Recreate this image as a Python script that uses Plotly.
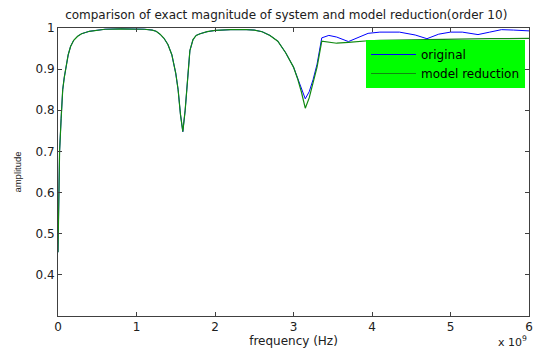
import plotly.graph_objects as go

# frequency in units of 1e9 Hz
freq = [0, 0.02, 0.04, 0.06, 0.08, 0.10, 0.13, 0.16, 0.20, 0.25, 0.30, 0.40, 0.50, 0.60,
        0.80, 1.00, 1.10, 1.20, 1.25, 1.30, 1.35, 1.40, 1.45, 1.50, 1.53, 1.56, 1.59,
        1.62, 1.65, 1.68, 1.72, 1.76, 1.81, 1.90, 2.00, 2.20, 2.40, 2.50, 2.60, 2.70,
        2.80, 2.90, 3.00, 3.05, 3.10, 3.15, 3.20, 3.25, 3.30, 3.36, 3.45, 3.55, 3.70,
        3.80, 3.95, 4.10, 4.35, 4.55, 4.70, 4.85, 5.00, 5.15, 5.35, 5.50, 5.65, 5.80, 6.00]

original = [0.455, 0.70, 0.78, 0.85, 0.88, 0.905, 0.935, 0.955, 0.970, 0.980, 0.986, 0.992,
            0.995, 0.997, 0.998, 0.998, 0.997, 0.995, 0.992, 0.985, 0.975, 0.960, 0.935,
            0.890, 0.850, 0.790, 0.748, 0.800, 0.880, 0.945, 0.972, 0.982, 0.986, 0.991,
            0.994, 0.996, 0.996, 0.995, 0.991, 0.982, 0.968, 0.940, 0.905, 0.880, 0.852,
            0.828, 0.845, 0.875, 0.912, 0.976, 0.982, 0.978, 0.967, 0.975, 0.987, 0.990,
            0.990, 0.983, 0.974, 0.985, 0.990, 0.990, 0.984, 0.990, 0.996, 0.995, 0.993]

model_reduction = [0.455, 0.70, 0.78, 0.85, 0.88, 0.905, 0.935, 0.955, 0.970, 0.980, 0.986,
                   0.992, 0.995, 0.997, 0.998, 0.998, 0.997, 0.995, 0.992, 0.985, 0.975,
                   0.960, 0.935, 0.890, 0.850, 0.790, 0.748, 0.800, 0.880, 0.945, 0.972,
                   0.982, 0.986, 0.991, 0.994, 0.996, 0.996, 0.995, 0.991, 0.982, 0.968,
                   0.940, 0.905, 0.878, 0.845, 0.805, 0.830, 0.865, 0.905, 0.968, 0.966,
                   0.963, 0.965, 0.967, 0.969, 0.970, 0.971, 0.972, 0.972, 0.973, 0.973,
                   0.973, 0.974, 0.974, 0.974, 0.975, 0.975]

x_ticks = [0, 1, 2, 3, 4, 5, 6]
y_ticks = [0.4, 0.5, 0.6, 0.7, 0.8, 0.9, 1]
y_tick_labels = ["0.4", "0.5", "0.6", "0.7", "0.8", "0.9", "1"]

wide = "DejaVu Sans, sans-serif"
narrow = "Liberation Sans, Arial, sans-serif"
txt = "#202020"

fig = go.Figure()
fig.add_trace(go.Scatter(x=freq, y=original, mode="lines", name="original",
                         line=dict(color="#0000ff", width=1)))
fig.add_trace(go.Scatter(x=freq, y=model_reduction, mode="lines", name="model reduction",
                         line=dict(color="#108a10", width=1.2)))

axis_common = dict(showline=True, linecolor="#404040", linewidth=1, mirror="ticks",
                   ticks="inside", ticklen=4, tickcolor="#404040", showgrid=False,
                   zeroline=False, automargin=False,
                   tickfont=dict(family=wide, size=12, color=txt))

fig.update_layout(
    width=535, height=351,
    margin=dict(l=58, r=6, t=28, b=35),
    paper_bgcolor="white", plot_bgcolor="white",
    hovermode=False,
    title=dict(text="comparison of exact magnitude of system and model reduction(order 10)",
               x=0.535, xanchor="center", y=1 - 15 / 351, yanchor="middle",
               font=dict(family=wide, size=12, color=txt)),
    xaxis=dict(range=[0, 6], tickvals=x_ticks,
               title=dict(text="frequency (Hz)", standoff=2,
                          font=dict(family=wide, size=12, color=txt)),
               **axis_common),
    yaxis=dict(range=[0.3, 1], tickvals=y_ticks, ticktext=y_tick_labels,
               title=dict(text="amplitude", standoff=12,
                          font=dict(family=narrow, size=9.5, color=txt)),
               **axis_common),
    legend=dict(x=(366 - 58) / 471, y=(316 - 40) / 288, xanchor="left", yanchor="top",
                bgcolor="#00ff00", borderwidth=0, itemwidth=45,
                font=dict(family=wide, size=12, color="#000000"),
                tracegroupgap=0),
    showlegend=True,
    annotations=[dict(text="x 10<sup>9</sup>", xref="paper", yref="paper",
                      x=1.0, y=(316 - 341) / 288, xanchor="right", yanchor="middle",
                      showarrow=False,
                      font=dict(family=wide, size=11, color=txt))],
)

fig.write_html("out.html", config={"displayModeBar": False},
               post_script="document.body.style.margin='0';")
